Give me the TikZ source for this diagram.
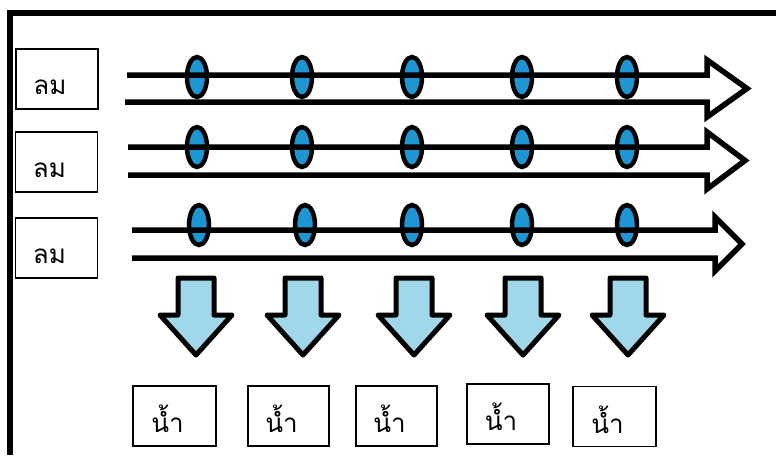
\documentclass[tikz,border=0pt]{standalone}
\usepackage{fontspec}
\newfontfamily\thaifont[Script=Thai]{Loma}
\usetikzlibrary{shapes.geometric}
\definecolor{dropblue}{RGB}{30,150,212}
\definecolor{arrowblue}{RGB}{160,215,235}
\begin{document}
\begin{tikzpicture}[x=1pt,y=-1pt,
  box/.style={draw=black, line width=1.2pt, fill=white, minimum width=82pt, minimum height=60pt, inner sep=0pt},
  boxtext/.style={inner sep=0pt, font=\thaifont\fontsize{26}{30}\selectfont, xshift=-7pt, yshift=-8pt},
  watertext/.style={inner sep=0pt, font=\thaifont\fontsize{26}{30}\selectfont, xshift=-7pt, yshift=-3pt},
  drop/.style={ellipse, draw=black, line width=4.5pt, fill=dropblue, minimum width=20pt, minimum height=40pt, inner sep=0pt},
  windarrow/.style={draw=black, line width=5.5pt, line join=miter, line cap=butt},
  downarrow/.style={draw=black, line width=5pt, line join=round, fill=arrowblue},
  frameline/.style={draw=black, line width=6pt}]
\useasboundingbox (0,0) rectangle (776,455);
\fill[white] (0,0) rectangle (776,455);
\draw[frameline] (10,455) -- (10,12.5) -- (776,12.5);

% wind labels
\node[box, label={[boxtext]center:ลม}] (w1) at (57,79) {};
\node[box, label={[boxtext]center:ลม}] (w2) at (56.5,162) {};
\node[box, label={[boxtext]center:ลม}] (w3) at (56.5,248) {};

% drops
\foreach \x [count=\i] in {197,302,412,522,627} {
  \node[drop] (da\i) at (\x,77) {};
  \node[drop] (db\i) at (\x,147) {};
}
\foreach \x [count=\i] in {199,305,412,522,627} {
  \node[drop] (dc\i) at (\x,225) {};
}

% wind arrows (open outline)
\draw[windarrow] (127,75) -- (707,75) -- (707,60) -- (747,88.5) -- (707,117) -- (707,102) -- (125,102);
\draw[windarrow] (128,147) -- (707,147) -- (707,132) -- (745,160.5) -- (707,189) -- (707,175) -- (128,175);
\draw[windarrow] (132,230) -- (715,230) -- (715,217) -- (742,244) -- (715,271) -- (715,258) -- (132,258);

% down arrows
\foreach \x [count=\i] in {196,303,414,523,628} {
  \coordinate (t\i) at (\x,355);
  \draw[downarrow] (\x-18,278) -- (\x+18,278) -- (\x+18,315) -- (\x+36,315) -- (t\i) -- (\x-36,315) -- (\x-18,315) -- cycle;
}

% water labels
\node[box, minimum width=83pt, label={[watertext]center:น้ำ}] (n1) at (174.5,416) {};
\node[box, minimum width=81pt, label={[watertext]center:น้ำ}] (n2) at (288.5,416) {};
\node[box, minimum width=81pt, label={[watertext]center:น้ำ}] (n3) at (396.5,416) {};
\node[box, minimum width=82pt, label={[watertext]center:น้ำ}] (n4) at (508,414) {};
\node[box, minimum width=83pt, label={[watertext]center:น้ำ}] (n5) at (614.5,416.5) {};
\end{tikzpicture}
\end{document}
